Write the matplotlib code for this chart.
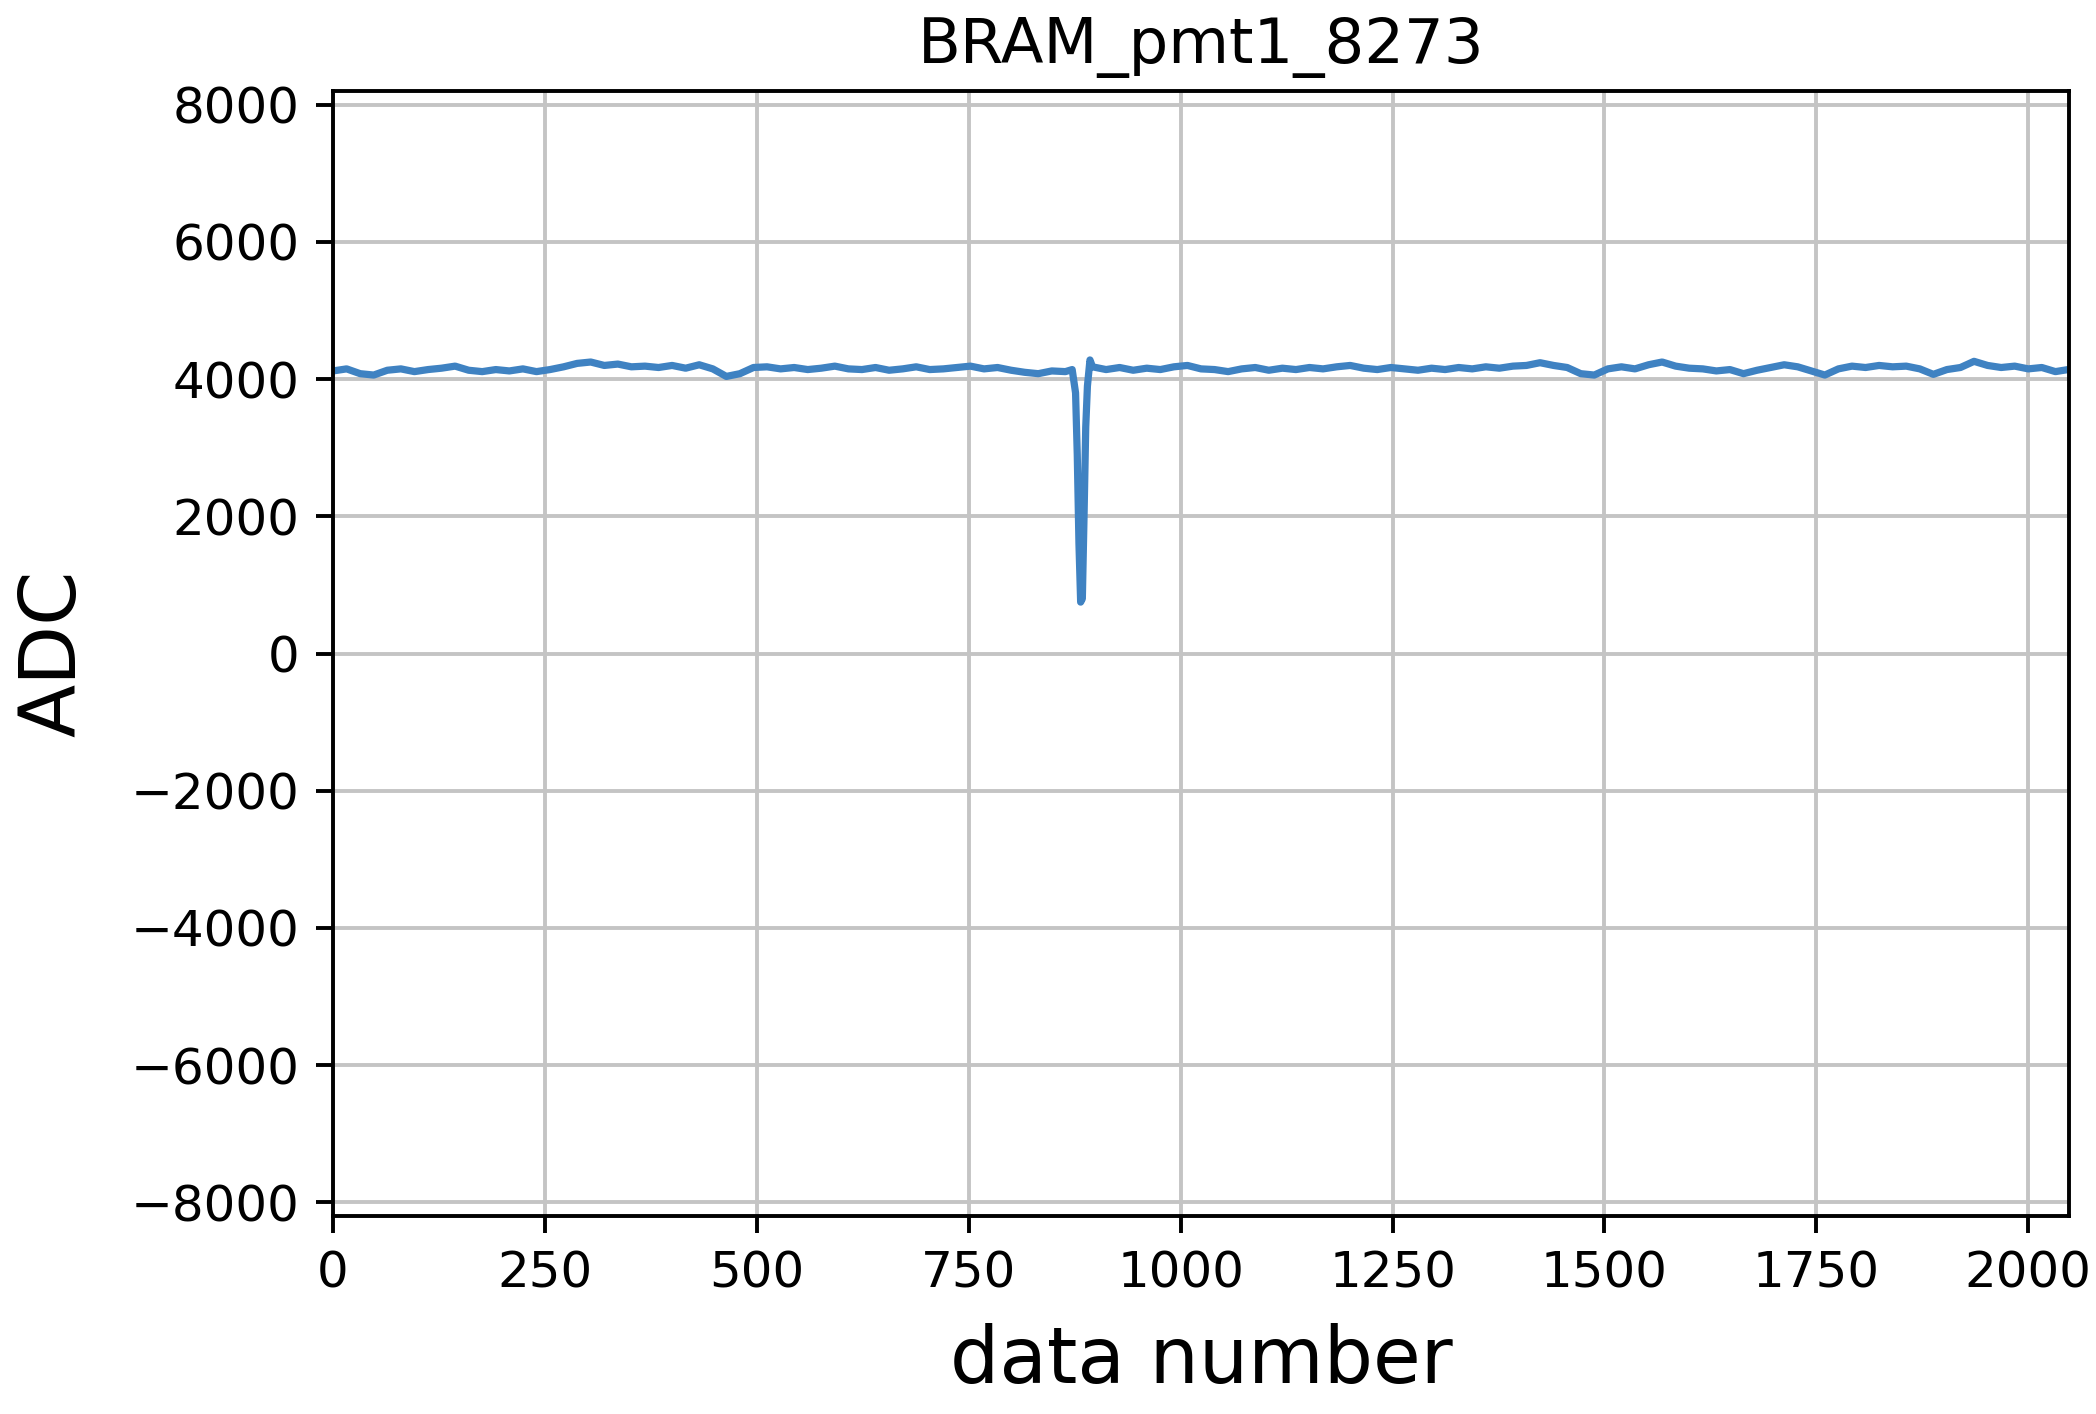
import matplotlib
matplotlib.use("Agg")
import matplotlib.pyplot as plt

# sample index / ADC value (baseline ~4150, one negative pulse near 880)
sample_idx = [0, 16, 32, 48, 64, 80, 96, 112, 128, 144, 160, 176, 192, 208, 224, 240,
              256, 272, 288, 304, 320, 336, 352, 368, 384, 400, 416, 432, 448, 464, 480, 496,
              512, 528, 544, 560, 576, 592, 608, 624, 640, 656, 672, 688, 704, 720, 736, 752,
              768, 784, 800, 816, 832, 848, 864, 872, 876, 878, 880, 882, 884, 886, 888, 890,
              893, 896, 912, 928, 944, 960, 976, 992, 1008, 1024, 1040, 1056, 1072, 1088, 1104, 1120,
              1136, 1152, 1168, 1184, 1200, 1216, 1232, 1248, 1264, 1280, 1296, 1312, 1328, 1344, 1360, 1376,
              1392, 1408, 1424, 1440, 1456, 1472, 1488, 1504, 1520, 1536, 1552, 1568, 1584, 1600, 1616, 1632,
              1648, 1664, 1680, 1696, 1712, 1728, 1744, 1760, 1776, 1792, 1808, 1824, 1840, 1856, 1872, 1888,
              1904, 1920, 1936, 1952, 1968, 1984, 2000, 2016, 2032, 2047]
adc = [4120, 4150, 4080, 4060, 4130, 4150, 4110, 4140, 4160, 4190, 4130, 4110, 4140, 4120, 4150, 4110,
       4140, 4180, 4230, 4250, 4200, 4220, 4180, 4190, 4170, 4200, 4160, 4210, 4150, 4040, 4080, 4170,
       4180, 4150, 4170, 4140, 4160, 4190, 4150, 4140, 4170, 4130, 4150, 4180, 4140, 4150, 4170, 4190,
       4150, 4170, 4130, 4100, 4080, 4120, 4110, 4140, 3800, 2900, 1600, 750, 800, 2000, 3300, 3900,
       4280, 4180, 4140, 4170, 4130, 4160, 4140, 4180, 4200, 4150, 4140, 4110, 4150, 4170, 4130, 4160,
       4140, 4170, 4150, 4180, 4200, 4160, 4140, 4170, 4150, 4130, 4160, 4140, 4170, 4150, 4180, 4160,
       4190, 4200, 4240, 4200, 4170, 4080, 4060, 4150, 4180, 4150, 4210, 4250, 4190, 4160, 4150, 4120,
       4140, 4080, 4130, 4170, 4210, 4180, 4120, 4060, 4150, 4190, 4170, 4200, 4180, 4190, 4150, 4070,
       4140, 4170, 4260, 4200, 4170, 4190, 4150, 4170, 4110, 4140]
xticks = [0, 250, 500, 750, 1000, 1250, 1500, 1750, 2000]
yticks = [-8000, -6000, -4000, -2000, 0, 2000, 4000, 6000, 8000]

plt.rcParams['font.family'] = ['DejaVu Sans']
fig = plt.figure(figsize=(10.48, 7.07), dpi=200)
ax = fig.add_axes([0.1589, 0.140, 0.8282, 0.7956])

ax.plot(sample_idx, adc, color="#3f82c2", linewidth=2.6)
ax.set_xlim(0, 2048)
ax.set_ylim(-8200, 8200)
ax.set_xticks(xticks)
ax.set_yticks(yticks)
ax.grid(True, color="#c4c4c4", linewidth=1.4)
ax.set_axisbelow(True)
ax.tick_params(labelsize=18, length=6, width=1.4, pad=6)
for s in ax.spines.values():
    s.set_linewidth(1.4)
ax.set_title("BRAM_pmt1_8273", fontsize=22.5, pad=10)
ax.set_xlabel("data number", fontsize=28)
ax.set_ylabel("ADC", fontsize=28)
ax.xaxis.set_label_coords(0.5, -0.095)
ax.yaxis.set_label_coords(-0.139, 0.5)

fig.savefig("out.png", dpi=200)
